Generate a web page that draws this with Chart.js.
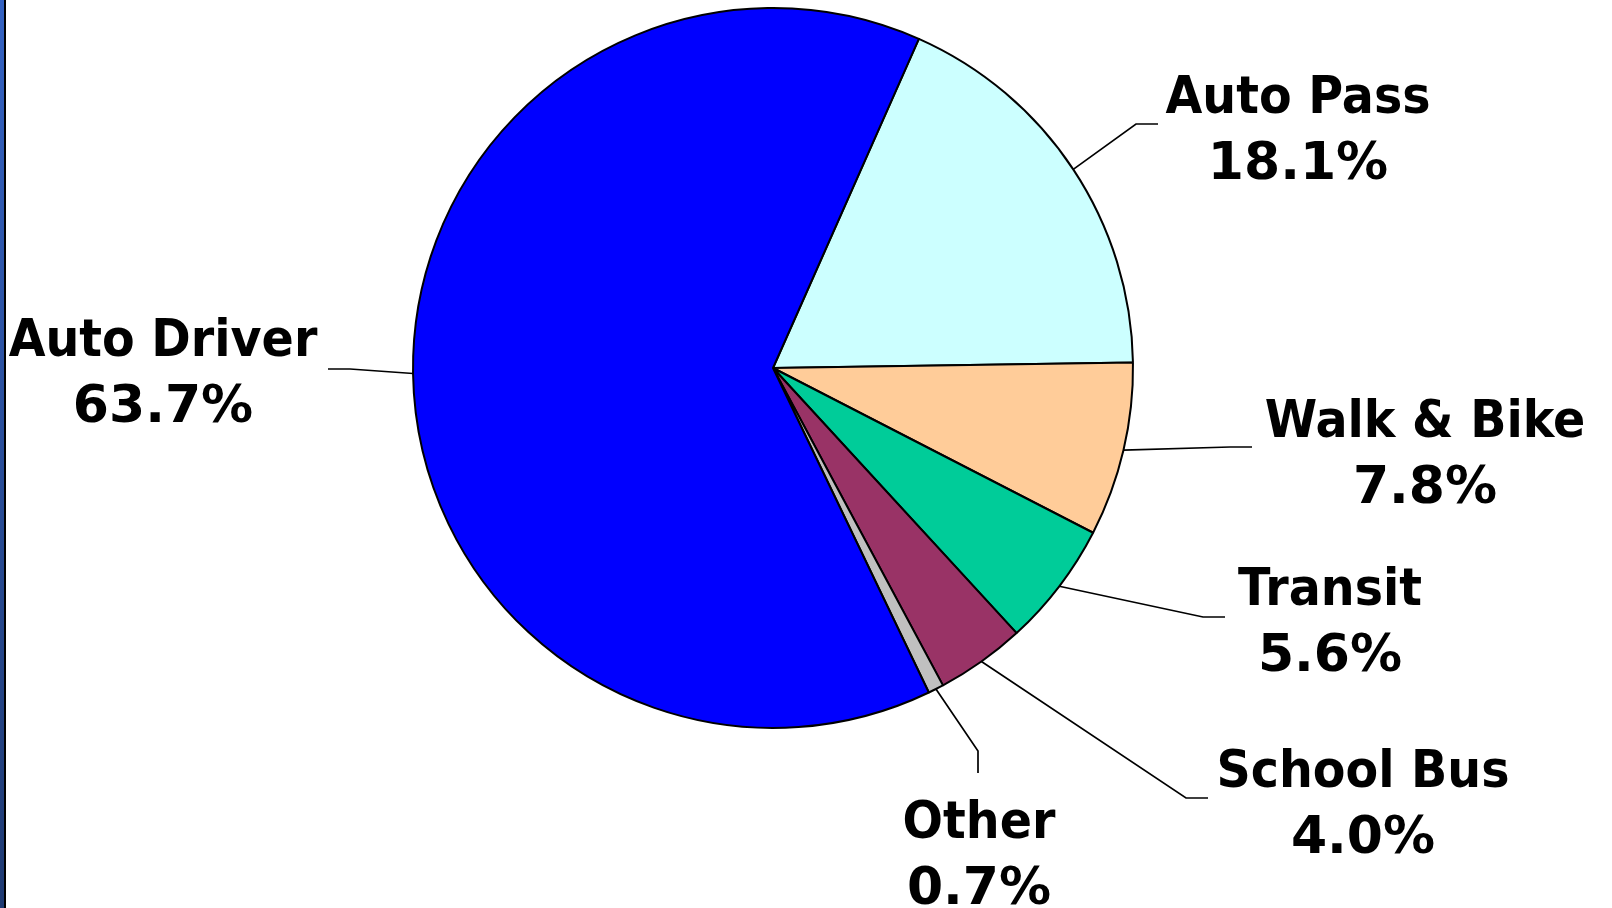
<!DOCTYPE html>
<html>
<head>
<meta charset="utf-8">
<title>Mode Share</title>
<script src="https://cdn.jsdelivr.net/npm/chart.js@4.4.1/dist/chart.umd.min.js"></script>
<style>
    html, body { margin: 0; padding: 0; background: #fff; overflow: hidden; }
    #wrap { position: relative; width: 1612px; height: 908px; }
    #edge {
        position: absolute; left: 0; top: 0; width: 4px; height: 908px;
        background: linear-gradient(#3462c2, #1f3a72);
        border-right: 2px solid #000;
    }
</style>
</head>
<body>
<div id="wrap">
    <canvas id="mode-chart" width="1612" height="908"></canvas>
    <div id="edge"></div>
</div>
<script>
// slices in clockwise order, starting just right of 12 o'clock
const modes = ["Auto Pass", "Walk & Bike", "Transit", "School Bus", "Other", "Auto Driver"];
const shares = [18.1, 7.8, 5.6, 4.0, 0.7, 63.7];
const sliceColors = ["#ccffff", "#ffcc99", "#00cc99", "#993366", "#c0c0c0", "#0000ff"];

// where each label sits (centre x, first baseline y) and where its leader ends
const labelSpots = [
    { x: 1298, y: 113, ex: 1158, ey: 124, dir: "right" },
    { x: 1425, y: 437, ex: 1252, ey: 447, dir: "right" },
    { x: 1330, y: 605, ex: 1225, ey: 617, dir: "right" },
    { x: 1363, y: 787, ex: 1208, ey: 798, dir: "right" },
    { x: 979,  y: 838, ex: 978,  ey: 773, dir: "down" },
    { x: 163,  y: 356, ex: 328,  ey: 369, dir: "left" }
];

const LABEL_FONT = "bold 52px 'DejaVu Sans'";
const NAME_SQUEEZE = 0.915;
const LINE_GAP = 66;
const STUB = 22;

const leaderLabels = {
    id: "leaderLabels",
    afterDraw(chart) {
        const ctx = chart.ctx;
        const arcs = chart.getDatasetMeta(0).data;
        ctx.save();
        ctx.strokeStyle = "#000";
        ctx.lineWidth = 1.7;
        ctx.fillStyle = "#000";
        ctx.font = LABEL_FONT;
        ctx.textAlign = "center";
        ctx.textBaseline = "alphabetic";

        arcs.forEach((arc, i) => {
            const { x, y, startAngle, endAngle, outerRadius } =
                arc.getProps(["x", "y", "startAngle", "endAngle", "outerRadius"], true);
            const mid = (startAngle + endAngle) / 2;
            const px = x + Math.cos(mid) * outerRadius;
            const py = y + Math.sin(mid) * outerRadius;
            const spot = labelSpots[i];

            let bx = spot.ex, by = spot.ey;
            if (spot.dir === "right") bx -= STUB;
            else if (spot.dir === "left") bx += STUB;
            else by -= STUB;

            ctx.beginPath();
            ctx.moveTo(px, py);
            ctx.lineTo(bx, by);
            ctx.lineTo(spot.ex, spot.ey);
            ctx.stroke();

            ctx.save();
            ctx.translate(spot.x, spot.y);
            ctx.scale(NAME_SQUEEZE, 1);
            ctx.fillText(modes[i], 0, 0);
            ctx.restore();
            ctx.fillText(shares[i].toFixed(1) + "%", spot.x, spot.y + LINE_GAP);
        });
        ctx.restore();
    }
};

new Chart(document.getElementById("mode-chart"), {
    type: "pie",
    data: {
        labels: modes,
        datasets: [{
            data: shares,
            backgroundColor: sliceColors,
            borderColor: "#000",
            borderWidth: 2
        }]
    },
    options: {
        responsive: false,
        animation: false,
        rotation: 23.9,
        radius: 360,
        layout: { padding: { left: 0, right: 66, top: 0, bottom: 172 } },
        plugins: {
            legend: { display: false },
            tooltip: { enabled: false }
        }
    },
    plugins: [leaderLabels]
});
</script>
</body>
</html>
